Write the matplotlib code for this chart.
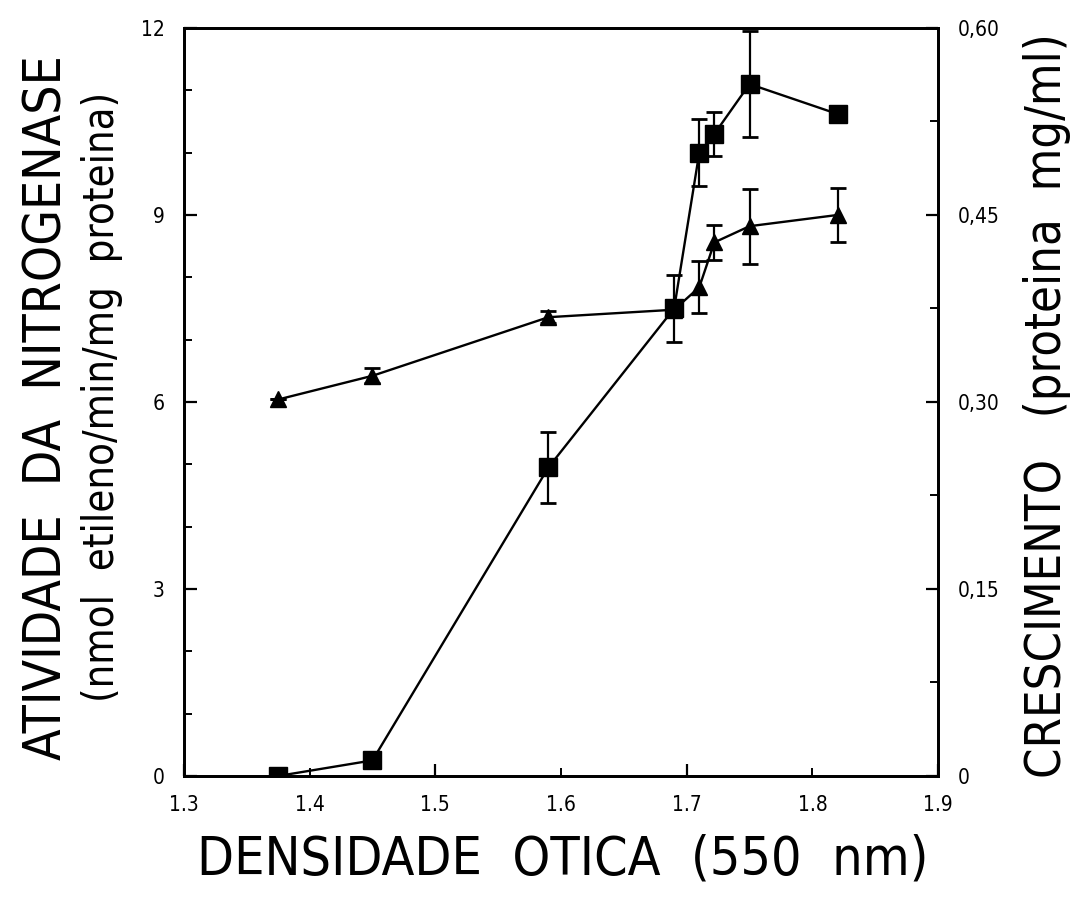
import numpy as np
import matplotlib.pyplot as plt
from matplotlib.ticker import MultipleLocator, FixedLocator, FuncFormatter

plt.rcParams['font.family'] = ['DejaVu Sans']
plt.rcParams['font.stretch'] = 'condensed'

# densidade otica (550 nm)
do_nit = [1.375, 1.45, 1.59, 1.69, 1.71, 1.722, 1.75, 1.82]
# atividade da nitrogenase (nmol etileno/min/mg proteina)
nit = [0.0, 0.25, 4.95, 7.5, 10.0, 10.3, 11.1, 10.62]
nit_err = [0.0, 0.0, 0.57, 0.53, 0.54, 0.35, 0.85, 0.0]

do_cresc = [1.375, 1.45, 1.59, 1.69, 1.71, 1.722, 1.75, 1.82]
# crescimento (proteina mg/ml)
cresc = [0.302, 0.321, 0.368, 0.374, 0.392, 0.428, 0.441, 0.450]
cresc_err = [0.0, 0.006, 0.005, 0.0, 0.021, 0.014, 0.030, 0.022]

left_ticks = [0, 3, 6, 9, 12]
right_ticks = [0, 0.15, 0.30, 0.45, 0.60]
right_labels = ['0', '0,15', '0,30', '0,45', '0,60']

fig = plt.figure(figsize=(10.82, 9.17), dpi=100)
ax = fig.add_axes([0.170, 0.1538, 0.697, 0.8157])
ax2 = ax.twinx()

ax.errorbar(do_nit, nit, yerr=nit_err, color='black', lw=1.7, marker='s',
            ms=13, capsize=6, capthick=2, elinewidth=1.6, zorder=3)
ax2.errorbar(do_cresc, cresc, yerr=cresc_err, color='black', lw=1.7, marker='^',
             ms=12, capsize=6, capthick=2, elinewidth=1.6, zorder=2)

ax.set_xlim(1.3, 1.9)
ax.set_ylim(0, 12)
ax2.set_ylim(0, 0.6)

ax.xaxis.set_major_locator(FixedLocator([1.3, 1.5, 1.7, 1.9]))
ax.xaxis.set_minor_locator(FixedLocator([1.4, 1.6, 1.8]))
fmt = FuncFormatter(lambda v, p: f'{v:.1f}')
ax.xaxis.set_major_formatter(fmt)
ax.xaxis.set_minor_formatter(fmt)

ax.set_yticks(left_ticks)
ax.yaxis.set_minor_locator(MultipleLocator(1))
ax2.set_yticks(right_ticks)
ax2.set_yticklabels(right_labels)
ax2.yaxis.set_minor_locator(MultipleLocator(0.075))

for a in (ax, ax2):
    for s in a.spines.values():
        s.set_linewidth(2)
    a.tick_params(which='major', direction='in', length=9, width=1.6,
                  labelsize=15, pad=14)
    a.tick_params(which='minor', direction='in', length=6, width=1.4,
                  labelsize=15, pad=14)
ax.tick_params(axis='x', which='both', top=False, pad=14)
ax.tick_params(axis='y', which='both', right=False)

fig.text(0.520, 0.063, 'DENSIDADE  OTICA  (550  nm)', fontsize=38.5,
         ha='center', va='center')
fig.text(0.044, 0.556, 'ATIVIDADE  DA  NITROGENASE', fontsize=37,
         rotation=90, ha='center', va='center')
fig.text(0.094, 0.567, '(nmol  etileno/min/mg  proteina)', fontsize=30,
         rotation=90, ha='center', va='center')
fig.text(0.968, 0.558, 'CRESCIMENTO   (proteina  mg/ml)', fontsize=35,
         rotation=90, ha='center', va='center')

fig.savefig('out.png', dpi=100)
